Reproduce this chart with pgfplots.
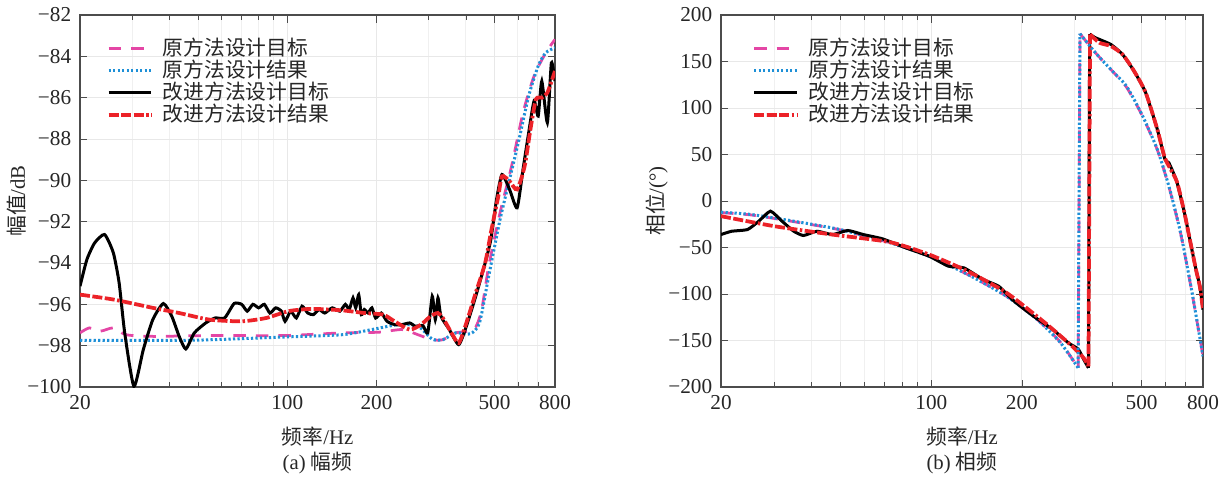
\documentclass[border=0pt]{standalone}
\usepackage{fontspec}
\setmainfont{Liberation Serif}
\newfontfamily\cjk{Noto Sans CJK SC}
\usepackage{pgfplots}
\pgfplotsset{compat=1.18}
\definecolor{pinkc}{RGB}{228,70,165}
\definecolor{bluec}{RGB}{30,144,215}
\definecolor{redc}{RGB}{236,34,40}
\tikzset{
pinkline/.style={color=pinkc, line width=1.1pt, dash pattern=on 5pt off 4pt},
blueline/.style={color=bluec, line width=1.2pt, dash pattern=on 0.9pt off 0.9pt},
blackline/.style={color=black, line width=1.2pt},
redline/.style={color=redc, line width=1.5pt, dash pattern=on 4pt off 1pt on 4pt off 1pt on 4pt off 1pt on 1pt off 1pt},
}
\pgfplotsset{every axis/.append style={
 scale only axis, height=148.8pt,
 xmin=20, xmax=800, xtick={20,100,200,500,800}, xticklabels={20,100,200,500,800},
 minor xtick={30,40,50,60,70,80,90,300,400,600,700},
 grid=both, major grid style={draw=gray!18, line width=0.4pt}, minor grid style={draw=gray!12, line width=0.4pt},
 axis line style={draw=black!70, line width=0.6pt},
 tick style={draw=black!70}, tick align=inside, major tick length=3pt, minor tick length=2pt,
 tick label style={font=\fontsize{8.5}{10}\selectfont, text=black!85},
 label style={font=\fontsize{8.3}{9.6}\selectfont, text=black!85},
 legend cell align=left,
 legend style={draw=none, fill=none, inner sep=0pt, row sep=0pt, column sep=3.6pt, font=\fontsize{8.3}{9.6}\selectfont\cjk, text=black!85, nodes={inner sep=0.3pt, text height=6.6pt, text depth=1.6pt}},
 xlabel style={at={(axis description cs:0.5,-0.1344)}, anchor=center},
}}
\begin{document}
\begin{tikzpicture}
\begin{semilogxaxis}[name=L, at={(0pt,0pt)}, anchor=south west, width=190pt,
 ymin=-100, ymax=-82, ytick={-100,-98,-96,-94,-92,-90,-88,-86,-84,-82},
 yticklabels={−100,−98,−96,−94,−92,−90,−88,−86,−84,−82},
 xlabel={{\cjk 频率}/Hz}, ylabel={{\cjk 幅值}/dB},
 ylabel style={at={(axis description cs:-0.1326,0.5)}, anchor=center},
 legend style={at={(axis description cs:0.055,0.94)}, anchor=north west}]
\addplot[pinkline, smooth, tension=0.4] coordinates {
(20,-97.38) (21.5,-97.14) (23.4,-97.3) (25.9,-97.14) (28.6,-97.47) (35.2,-97.55) (54.7,-97.51) (98,-97.51) (153,-97.38) (203,-97.35) (244,-97.22) (276,-97.47) (308,-97.71) (335,-97.71) (370,-97.38) (426,-97.22) (452,-96.3) (478,-94.16) (522,-91.57) (571,-89.31) (624,-86.73) (680,-84.95) (745,-83.82) (800,-83.18)};
\addlegendentry{原方法设计目标}
\addplot[blueline, smooth, tension=0.4] coordinates {
(20,-97.74) (47,-97.74) (98,-97.58) (153,-97.47) (193,-97.22) (237,-96.98) (276,-97.06) (308,-97.68) (335,-97.71) (370,-97.38) (414,-97.43) (445,-96.9) (478,-94.64) (522,-91.9) (562,-89.96) (605,-88.02) (652,-85.92) (702,-84.47) (745,-83.82) (800,-83.58)};
\addlegendentry{原方法设计结果}
\addplot[blackline, smooth, tension=0.35] coordinates {
(20,-95.12) (21.1,-93.83) (22.4,-93.03) (24.2,-92.62) (25.9,-93.5) (27.1,-94.96) (28.3,-97.38) (30.4,-99.97) (32.7,-98.19) (35.2,-96.74) (38.2,-95.96) (40.8,-96.58) (43.2,-97.55) (45.5,-98.16) (48.6,-97.38) (53.1,-96.9) (57.1,-96.66) (61.5,-96.66) (66.2,-95.96) (70.2,-96.0) (73.3,-96.33) (76.6,-96.0) (80.1,-96.17) (83.7,-96.0) (87.4,-96.42) (91.4,-96.17) (95.5,-96.33) (98.3,-96.82) (102.7,-96.33) (107.3,-96.66) (112.2,-96.09) (117.2,-96.42) (122.5,-96.5) (128,-96.25) (133.8,-96.42) (141.8,-96.17) (150.4,-96.33) (157.1,-96.0) (161.8,-96.25) (166.7,-95.69) (170.2,-96.17) (174.2,-95.53) (177.8,-96.50) (182,-96.25) (187.3,-96.42) (193,-96.17) (198.7,-96.66) (207.6,-96.42) (217,-96.82) (230.2,-96.98) (244,-96.98) (258.8,-96.9) (270.4,-97.06) (286.8,-97.03) (297.8,-97.38) (308.4,-95.61) (315.8,-96.74) (322.4,-95.69) (330,-96.58) (352,-97.22) (378.8,-97.95) (401.8,-97.06) (432.2,-95.61) (465,-94.0) (486,-92.86) (508,-90.93) (530,-89.72) (562,-90.44) (596,-91.33) (624,-89.47) (652,-87.7) (680,-86.16) (702,-86.89) (722,-85.2) (754,-87.21) (778,-84.31) (800,-85.2)};
\addlegendentry{改进方法设计目标}
\addplot[redline, smooth, tension=0.4] coordinates {
(20,-95.53) (26,-95.77) (35.2,-96.17) (43.2,-96.42) (54.7,-96.74) (70.2,-96.82) (84.9,-96.66) (101,-96.33) (120.8,-96.22) (153,-96.29) (182,-96.42) (210.8,-96.5) (230,-96.82) (258.8,-97.22) (282.6,-96.98) (304,-96.58) (322,-96.42) (335,-96.66) (358,-97.38) (378.8,-97.87) (401.8,-96.9) (432,-95.45) (465,-94.0) (486,-92.54) (515,-90.77) (530,-89.8) (562,-90.04) (596,-90.44) (632,-89.31) (661,-87.54) (690,-86.08) (722,-86.0) (754,-85.76) (800,-84.71)};
\addlegendentry{改进方法设计结果}
\end{semilogxaxis}
\node[font=\fontsize{8.3}{9.6}\selectfont, text=black!85] at ([yshift=-30.4pt]L.south) {(a) {\cjk 幅频}};

\begin{semilogxaxis}[name=R, at={(256.4pt,0pt)}, anchor=south west, width=192.8pt,
 ymin=-200, ymax=200, ytick={-200,-150,-100,-50,0,50,100,150,200},
 yticklabels={−200,−150,−100,−50,0,50,100,150,200},
 xlabel={{\cjk 频率}/Hz}, ylabel={{\cjk 相位}/(°)},
 ylabel style={at={(axis description cs:-0.133,0.5)}, anchor=center},
 legend style={at={(axis description cs:0.064,0.94)}, anchor=north west}]
% pink: 原方法设计目标
\addplot[pinkline, smooth, tension=0.4] coordinates {
(20,-12.5) (25.2,-15) (34.9,-22.2) (49.8,-31) (73.1,-45) (98.4,-59.4) (132.3,-79.1) (177.8,-102.4) (225,-127.5) (269,-152) (307.6,-179.5)};
\addlegendentry{原方法设计目标}
\addplot[blueline, smooth, tension=0.4] coordinates {
(20,-12.0) (25.2,-14.5) (34.9,-21.7) (49.8,-30.7) (73.1,-45.0) (98.4,-59.4) (132.3,-79.1) (177.8,-102.4) (225,-127.5) (269,-152.6) (307.6,-179.5)};
\addlegendentry{原方法设计结果}
\addplot[blackline, smooth, tension=0.3] coordinates {
(20,-36.1) (21.7,-32.5) (24.5,-30.7) (26.7,-21.7) (29.2,-10.9) (31.9,-21.7) (34.9,-32.5) (37.6,-37.1) (41.7,-32.5) (46.9,-36.1) (52.8,-31.7) (59.5,-36.1) (68.9,-40.7) (82.3,-50.4) (98.4,-59.4) (114,-70.1) (128.4,-71.9) (148.8,-84.5) (167.6,-91.7) (188.6,-107.8) (218.8,-124.0) (253.6,-138.3) (285.6,-152.6) (307.6,-159.1) (321.4,-170.6) (333,-179.5)};
\addlegendentry{改进方法设计目标}
\addplot[redline, smooth, tension=0.4] coordinates {
(20,-16.3) (30.1,-27.1) (46.9,-36.1) (73,-44.3) (98.4,-57.6) (132,-75.5) (178,-98.8) (239,-131.1) (294,-156.2) (321,-168.8) (333,-177.7)};
\addlegendentry{改进方法设计结果}
% jumps
\addplot[pinkline, forget plot] coordinates {(307.6,-179.5) (312,179.9)};
\addplot[blueline, forget plot] coordinates {(307.6,-179.5) (312,179.9)};
\addplot[blackline, forget plot] coordinates {(333,-179.5) (336,179.5)};
\addplot[redline, forget plot] coordinates {(333,-177.7) (337,179.2)};
% after jump
\addplot[pinkline, smooth, tension=0.4, forget plot] coordinates {
(312,179.9) (351,159.5) (395,141.5) (445,122.6) (501,92.5) (564,55) (616,15.5) (674,-34.8) (736,-99.3) (800,-167)};
\addplot[blueline, smooth, tension=0.4, forget plot] coordinates {
(312,179.9) (351,159.5) (395,141.5) (445,123.6) (501,93.1) (564,55.4) (616,16.0) (674,-34.3) (736,-98.8) (800,-167.0)};
\addplot[blackline, smooth, tension=0.3, forget plot] coordinates {
(336,179.5) (351,175.6) (395,168.4) (432,157.7) (472,139.7) (516,116.4) (564,77.0) (598,44.7) (616,41.1) (654,21.3) (694,-12.7) (716,-34.3) (758,-73.7) (781,-91.7) (800,-116.8)};
\addplot[redline, smooth, tension=0.4, forget plot] coordinates {
(337,179.2) (362,170.2) (395,166.6) (432,157.7) (472,139.7) (516,116.4) (564,77.0) (598,46) (654,21.3) (694,-12.7) (716,-34.3) (758,-73.7) (781,-92) (800,-116.8)};
\end{semilogxaxis}
\node[font=\fontsize{8.3}{9.6}\selectfont, text=black!85] at ([yshift=-30.4pt]R.south) {(b) {\cjk 相频}};
\pgfresetboundingbox
\path[use as bounding box] (-32pt,-36pt) rectangle (458pt,154.8pt);
\end{tikzpicture}
\end{document}
